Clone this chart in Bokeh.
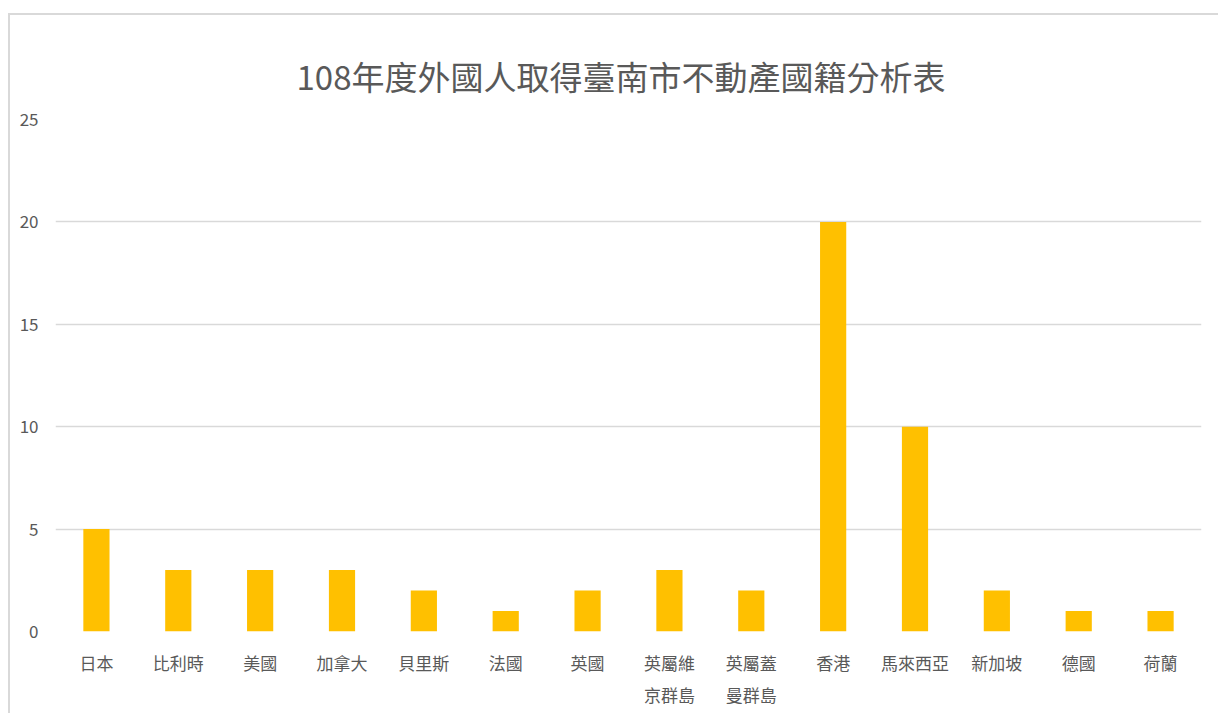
import json
from bokeh.plotting import figure
from bokeh.models import (ColumnDataSource, FactorRange, Range1d, FixedTicker,
                          CategoricalAxis, CustomJSTickFormatter)
from bokeh.embed import file_html
from bokeh.resources import INLINE

categories = ["日本", "比利時", "美國", "加拿大", "貝里斯", "法國", "英國",
              "英屬維京群島", "英屬蓋曼群島", "香港", "馬來西亞", "新加坡", "德國", "荷蘭"]
label_line1 = ["日本", "比利時", "美國", "加拿大", "貝里斯", "法國", "英國",
               "英屬維", "英屬蓋", "香港", "馬來西亞", "新加坡", "德國", "荷蘭"]
label_line2 = ["", "", "", "", "", "", "",
               "京群島", "曼群島", "", "", "", "", ""]
counts = [5, 3, 3, 3, 2, 1, 2, 3, 2, 20, 10, 2, 1, 1]
y_ticks = [0, 5, 10, 15, 20, 25]

FONT = "Noto Sans CJK TC"
GREY = "#595959"

src = ColumnDataSource(dict(cat=categories, val=counts))

p = figure(x_range=FactorRange(factors=categories), y_range=Range1d(0, 25),
           width=1210, height=700, output_backend="svg", toolbar_location=None,
           title="108年度外國人取得臺南市不動產國籍分析表",
           min_border_left=45, min_border_right=19, min_border_top=104, min_border_bottom=84)
p.margin = (13, 0, 0, 8)
p.styles = {"border-left": "2px solid #d9d9d9", "border-top": "2px solid #d9d9d9"}

p.vbar(x="cat", top="val", width=0.32, source=src, color="#FFC000", line_color=None)

p.title.text_font = FONT
p.title.text_font_size = "33px"
p.title.text_font_style = "normal"
p.title.text_color = GREY
p.title.align = "left"
p.title.offset = 241
p.title.standoff = 40

p.outline_line_color = None
p.background_fill_color = "white"
p.border_fill_color = "white"

p.xgrid.grid_line_color = None
p.ygrid.grid_line_color = "#d9d9d9"
p.ygrid.grid_line_width = 1.5

p.yaxis.ticker = FixedTicker(ticks=y_ticks)
p.yaxis.axis_line_color = None
p.yaxis.major_tick_line_color = None
p.yaxis.minor_tick_line_color = None
p.yaxis.major_label_text_font = FONT
p.yaxis.major_label_text_font_size = "17px"
p.yaxis.major_label_text_color = GREY
p.yaxis.major_label_standoff = 11


def style_xaxis(ax, labels, standoff):
    mapping = json.dumps(dict(zip(categories, labels)), ensure_ascii=False)
    ax.axis_line_color = None
    ax.major_tick_line_color = None
    ax.minor_tick_line_color = None
    ax.major_label_text_font = FONT
    ax.major_label_text_font_size = "17px"
    ax.major_label_text_color = GREY
    ax.major_label_standoff = standoff
    ax.formatter = CustomJSTickFormatter(
        code="const m = " + mapping + "; const v = m[tick]; return (v === undefined) ? '' : v;")


style_xaxis(p.xaxis[0], label_line1, 12)
ax2 = CategoricalAxis()
style_xaxis(ax2, label_line2, -2)
p.add_layout(ax2, "below")

open("out.html", "w").write(file_html(p, INLINE))
